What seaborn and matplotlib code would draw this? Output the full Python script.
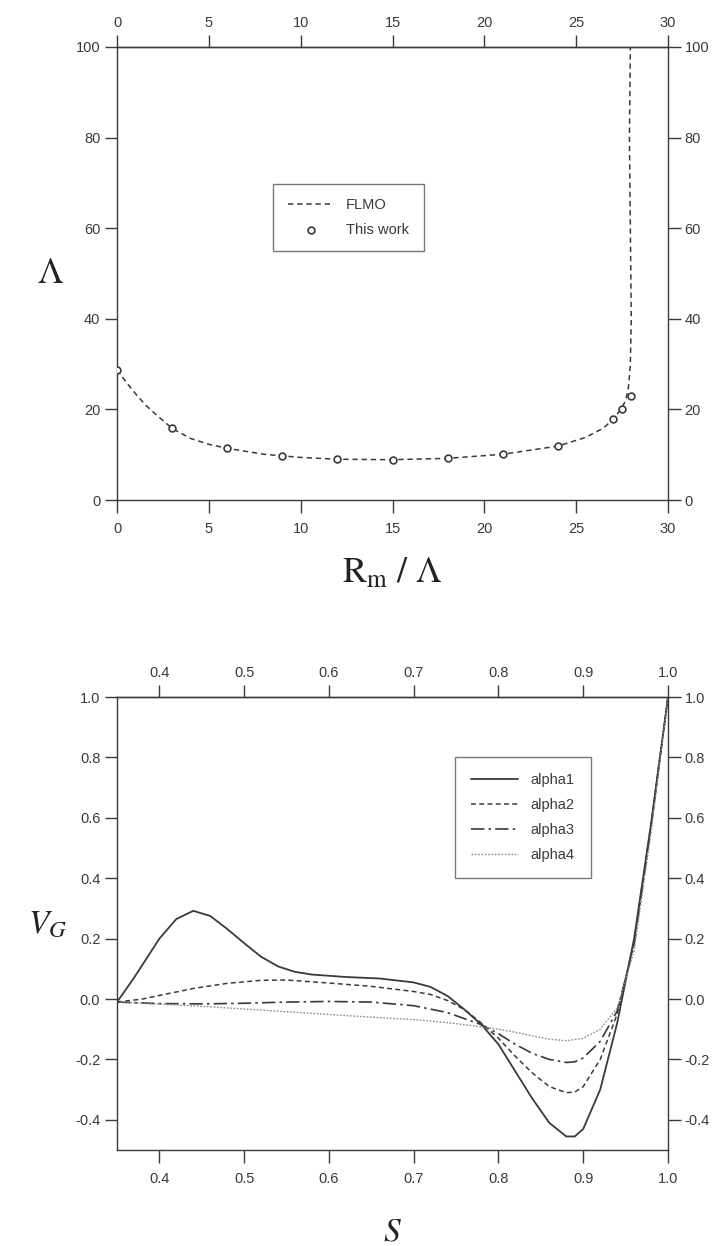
import matplotlib
matplotlib.use("Agg")
import matplotlib.pyplot as plt
import seaborn as sns
import pandas as pd

# ---------------- data: top panel ----------------
flmo_x = [0, 0.5, 1, 1.5, 2, 3, 4, 5, 6, 8, 10, 12, 15, 18, 21, 24, 25.5, 26.5, 27, 27.4, 27.7, 27.85, 27.95, 28.0, 27.95, 27.9, 27.95]
flmo_y = [28.8, 26.0, 23.5, 21.2, 19.3, 15.8, 13.6, 12.3, 11.4, 10.1, 9.4, 9.0, 8.9, 9.2, 10.1, 11.9, 13.8, 15.9, 17.8, 19.8, 22.0, 25.0, 30.0, 40.0, 60.0, 80.0, 100.0]
work_x = [0, 3, 6, 9, 12, 15, 18, 21, 24, 27, 27.5, 28]
work_y = [28.8, 15.8, 11.4, 9.7, 9.0, 8.9, 9.2, 10.1, 11.9, 17.8, 20.2, 22.9]

# ---------------- data: bottom panel ----------------
s1 = [0.35, 0.37, 0.40, 0.42, 0.44, 0.46, 0.48, 0.50, 0.52, 0.54, 0.56, 0.58, 0.62, 0.66, 0.70, 0.72, 0.74, 0.76, 0.78, 0.80, 0.82, 0.84, 0.86, 0.88, 0.89, 0.90, 0.92, 0.94, 0.96, 0.98, 1.00]
a1 = [-0.01, 0.07, 0.20, 0.265, 0.292, 0.275, 0.232, 0.185, 0.140, 0.108, 0.090, 0.081, 0.073, 0.068, 0.055, 0.040, 0.010, -0.035, -0.085, -0.150, -0.240, -0.330, -0.410, -0.455, -0.455, -0.430, -0.300, -0.080, 0.20, 0.58, 1.00]
s2 = [0.35, 0.38, 0.40, 0.44, 0.48, 0.52, 0.55, 0.60, 0.65, 0.70, 0.72, 0.74, 0.76, 0.78, 0.80, 0.82, 0.84, 0.86, 0.88, 0.89, 0.90, 0.92, 0.94, 0.96, 0.98, 1.00]
a2 = [-0.01, 0.0, 0.012, 0.035, 0.052, 0.062, 0.063, 0.053, 0.042, 0.025, 0.015, -0.005, -0.035, -0.080, -0.130, -0.190, -0.245, -0.290, -0.310, -0.308, -0.290, -0.200, -0.050, 0.19, 0.58, 1.00]
s3 = [0.35, 0.40, 0.45, 0.50, 0.55, 0.60, 0.65, 0.70, 0.74, 0.78, 0.80, 0.82, 0.84, 0.86, 0.88, 0.89, 0.90, 0.92, 0.94, 0.96, 0.98, 1.00]
a3 = [-0.01, -0.015, -0.016, -0.014, -0.010, -0.008, -0.010, -0.022, -0.045, -0.085, -0.115, -0.150, -0.180, -0.200, -0.210, -0.208, -0.195, -0.140, -0.040, 0.18, 0.57, 1.00]
s4 = [0.35, 0.40, 0.45, 0.50, 0.55, 0.60, 0.65, 0.70, 0.74, 0.78, 0.80, 0.82, 0.84, 0.86, 0.88, 0.90, 0.92, 0.94, 0.96, 0.98, 1.00]
a4 = [-0.01, -0.017, -0.024, -0.033, -0.042, -0.051, -0.060, -0.068, -0.078, -0.092, -0.100, -0.110, -0.122, -0.133, -0.138, -0.130, -0.100, -0.030, 0.16, 0.55, 1.00]
series_labels = ["alpha1", "alpha2", "alpha3", "alpha4"]

top_xticks = [0, 5, 10, 15, 20, 25, 30]
top_yticks = [0, 20, 40, 60, 80, 100]
bot_xticks = [0.4, 0.5, 0.6, 0.7, 0.8, 0.9, 1.0]
bot_yticks = [-0.4, -0.2, 0.0, 0.2, 0.4, 0.6, 0.8, 1.0]

sns.set_theme(style="ticks")
plt.rcParams["font.family"] = ["Liberation Sans", "DejaVu Sans"]
plt.rcParams["mathtext.fontset"] = "stix"

INK = "#3a3a3a"
fig = plt.figure(figsize=(7.21, 12.46), dpi=100)
ax1 = fig.add_axes([0.1623, 0.5987, 0.7642, 0.3636])
ax2 = fig.add_axes([0.1623, 0.0770, 0.7642, 0.3636])

TICK = dict(direction="out", length=9, width=1.0, color=INK, labelcolor=INK, labelsize=10.5)

def style_axes(ax, xticks, fmt=None):
    for sp in ax.spines.values():
        sp.set_visible(True)
        sp.set_color(INK)
        sp.set_linewidth(1.0)
    ax.tick_params(axis="y", left=True, right=True, labelleft=True, labelright=True, pad=3, **TICK)
    ax.tick_params(axis="x", bottom=True, top=False, labelbottom=True, labeltop=False, pad=7, **TICK)
    sec = ax.secondary_xaxis("top")
    sec.set_xticks(xticks)
    if fmt is not None:
        sec.set_xticklabels([fmt.format(v) for v in xticks])
    sec.tick_params(axis="x", pad=3, **TICK)
    sec.spines["top"].set_color(INK)
    sec.spines["top"].set_linewidth(1.0)

# ---- top panel ----
sns.lineplot(x=flmo_x, y=flmo_y, ax=ax1, color=INK, linewidth=1.1, sort=False,
             estimator=None, label="FLMO")
ax1.lines[-1].set_dashes([3.5, 2.5])
sns.scatterplot(x=work_x, y=work_y, ax=ax1, marker="o", s=24, facecolor="white",
                edgecolor=INK, linewidth=1.2, label="This work", zorder=3)
ax1.set_xlim(0, 30)
ax1.set_ylim(0, 100)
ax1.set_xticks(top_xticks)
ax1.set_yticks(top_yticks)
style_axes(ax1, top_xticks)
ax1.set_xlabel(r"$\mathrm{R_m\ /\ \Lambda}$", fontsize=26, color="#222222", labelpad=14)
ax1.set_ylabel(r"$\Lambda$", fontsize=26, color="#222222", rotation=0, labelpad=18, va="center")
leg1 = ax1.legend(loc="upper left", bbox_to_anchor=(0.27, 0.714), fontsize=10.5,
                  frameon=True, fancybox=False, edgecolor="#777777", framealpha=1,
                  handlelength=3.2, handletextpad=0.8, borderpad=1.0, labelspacing=0.7)
leg1.get_frame().set_linewidth(1.0)
for t in leg1.get_texts():
    t.set_color(INK)

# ---- bottom panel ----
styles = [(None, INK, 1.3), ([3.2, 2.2], INK, 1.1),
          ([8, 2.5, 1.5, 2.5], INK, 1.2), ([1.2, 1.2], "#8a8a8a", 1.0)]
for (xs, ys, lab, (dashes, col, lw)) in zip([s1, s2, s3, s4], [a1, a2, a3, a4], series_labels, styles):
    sns.lineplot(x=xs, y=ys, ax=ax2, color=col, linewidth=lw, label=lab, estimator=None)
    ln = ax2.lines[-1]
    if dashes is not None:
        ln.set_dashes(dashes)
ax2.set_xlim(0.35, 1.0)
ax2.set_ylim(-0.5, 1.0)
ax2.set_xticks(bot_xticks)
ax2.set_yticks(bot_yticks)
ax2.set_xticklabels([f"{v:.1f}" for v in bot_xticks])
ax2.set_yticklabels([f"{v:.1f}" for v in bot_yticks])
style_axes(ax2, bot_xticks, "{:.1f}")
ax2.set_xlabel(r"$S$", fontsize=24, color="#222222", labelpad=22)
ax2.set_ylabel(r"$V_G$", fontsize=24, color="#222222", rotation=0, labelpad=20, va="center")
leg2 = ax2.legend(loc="upper left", bbox_to_anchor=(0.60, 0.884), fontsize=10.5,
                  frameon=True, fancybox=False, edgecolor="#777777", framealpha=1,
                  handlelength=3.2, handletextpad=0.9, borderpad=1.1, labelspacing=0.75)
leg2.get_frame().set_linewidth(1.0)
for t in leg2.get_texts():
    t.set_color(INK)

fig.savefig("out.png", dpi=100)
